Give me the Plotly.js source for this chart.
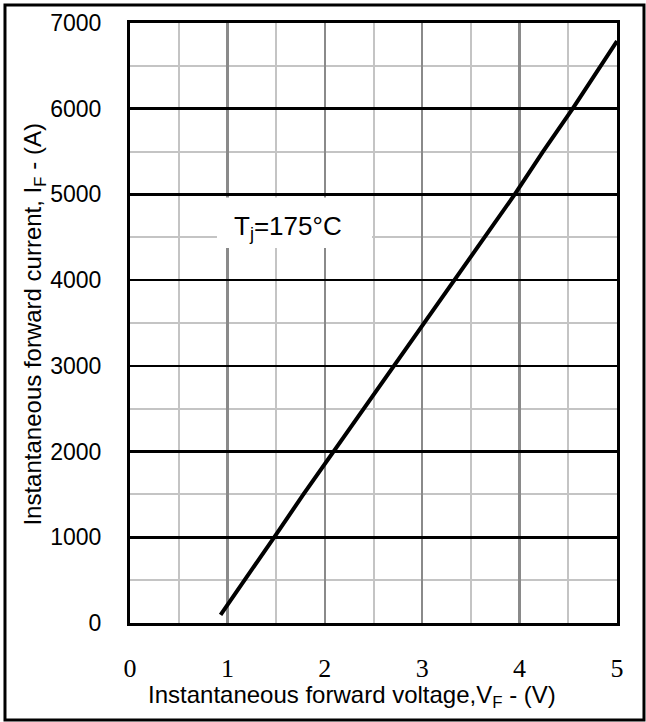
<!DOCTYPE html>
<html>
<head>
<meta charset="utf-8">
<script src="https://cdn.plot.ly/plotly-3.0.1.min.js"></script>
<style>
html,body{margin:0;padding:0;background:#fff;}
#chart{width:646px;height:722px;}
</style>
</head>
<body>
<div id="chart"></div>
<script>
// Forward voltage (V)
var voltage = [0.93, 1.18, 1.48, 1.78, 2.09, 2.40, 2.71, 3.03, 3.34, 3.65, 3.95, 4.24, 4.545, 5.0];
// Forward current (A)
var current = [95, 500, 1000, 1500, 2000, 2500, 3000, 3500, 4000, 4500, 5000, 5500, 6000, 6790];

var xTickVals = [0, 1, 2, 3, 4, 5];
var xTickText = ['0', '1', '2', '3', '4', '5'];
var yTickVals = [0, 1000, 2000, 3000, 4000, 5000, 6000, 7000];
var yTickText = ['0', '1000', '2000', '3000', '4000', '5000', '6000', '7000'];

var annotationText = 'T<sub>j</sub>=175°C';
var xTitle = 'Instantaneous forward voltage,V<sub>F</sub> - (V)';
var yTitle = 'Instantaneous forward current, I<sub>F</sub> - (A)';

var sans = 'Liberation Sans, Arial, sans-serif';
var serif = 'Liberation Serif, Times New Roman, serif';

var trace = {
  x: voltage,
  y: current,
  type: 'scatter',
  mode: 'lines',
  line: {color: '#000000', width: 4},
  hoverinfo: 'x+y',
  showlegend: false
};

var layout = {
  width: 646,
  height: 722,
  margin: {l: 130, r: 29, t: 23, b: 99},
  paper_bgcolor: '#ffffff',
  plot_bgcolor: '#ffffff',
  showlegend: false,
  xaxis: {
    range: [0, 5],
    tickmode: 'array',
    tickvals: xTickVals,
    ticktext: xTickText,
    showgrid: true,
    gridcolor: '#8a8a8a',
    gridwidth: 2.5,
    minor: {dtick: 0.5, tick0: 0, showgrid: true, gridcolor: '#c4c4c4', gridwidth: 2, ticks: ''},
    zeroline: false,
    showline: true,
    linecolor: '#000000',
    linewidth: 3,
    mirror: true,
    ticks: '',
    ticklabelstandoff: 20,
    tickfont: {family: serif, size: 26, color: '#000000'},
    fixedrange: true
  },
  yaxis: {
    range: [0, 7000],
    tickmode: 'array',
    tickvals: yTickVals,
    ticktext: yTickText,
    showgrid: true,
    gridcolor: '#000000',
    gridwidth: 2.5,
    minor: {dtick: 500, tick0: 0, showgrid: true, gridcolor: '#c4c4c4', gridwidth: 2, ticks: ''},
    zeroline: false,
    showline: true,
    linecolor: '#000000',
    linewidth: 3,
    mirror: true,
    ticks: '',
    ticklabelstandoff: 21,
    tickfont: {family: sans, size: 23, color: '#000000'},
    fixedrange: true
  },
  annotations: [
    {
      x: 1.627, y: 4620, xref: 'x', yref: 'y',
      xanchor: 'center', yanchor: 'middle',
      text: annotationText,
      showarrow: false,
      font: {family: sans, size: 26, color: '#000000'}
    },
    {
      x: 0.455, y: -0.122, xref: 'paper', yref: 'paper',
      xanchor: 'center', yanchor: 'middle',
      text: xTitle,
      showarrow: false,
      font: {family: sans, size: 24, color: '#000000'}
    },
    {
      x: -0.197, y: 0.4975, xref: 'paper', yref: 'paper',
      xanchor: 'center', yanchor: 'middle',
      textangle: -90,
      text: yTitle,
      showarrow: false,
      font: {family: sans, size: 24, color: '#000000'}
    }
  ],
  shapes: [
    {
      type: 'rect', xref: 'x', yref: 'y',
      x0: 0.893, x1: 2.485, y0: 4375, y1: 4965,
      line: {width: 0},
      fillcolor: '#ffffff',
      layer: 'above'
    },
    {
      type: 'rect', xref: 'paper', yref: 'paper',
      x0: -0.2567, x1: 1.0554, y0: -0.1617, y1: 1.03,
      line: {color: '#000000', width: 3},
      fillcolor: 'rgba(0,0,0,0)',
      layer: 'above'
    }
  ]
};

Plotly.newPlot('chart', [trace], layout, {displayModeBar: false, staticPlot: true});
</script>
</body>
</html>
